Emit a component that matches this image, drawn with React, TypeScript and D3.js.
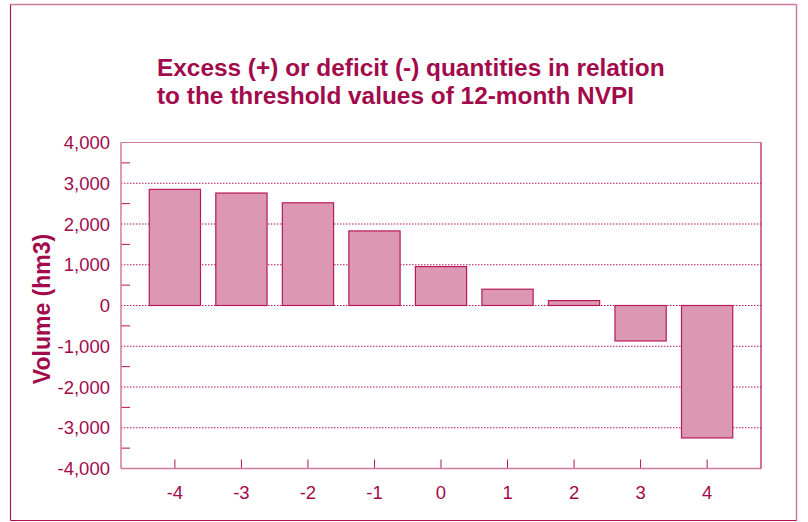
import React from "react";
import * as d3 from "d3";

const categories = ["-4", "-3", "-2", "-1", "0", "1", "2", "3", "4"];
const values = [2850, 2760, 2520, 1830, 955, 400, 120, -870, -3250];
const yTicks = [-4000, -3000, -2000, -1000, 0, 1000, 2000, 3000, 4000];
const yMinorTicks = [-3500, -2500, -1500, -500, 500, 1500, 2500, 3500];
const titleLines = [
  "Excess (+) or deficit (-) quantities in relation",
  "to the threshold values of 12-month NVPI",
];
const yLabel = "Volume (hm3)";

const W = 808;
const H = 522;
const plot = { left: 121, right: 761, top: 142.5, bottom: 468.5 };
const textColor = "#a20a4c";
const darkLine = "#b01458";
const lightLine = "#d07a9f";
const barFill = "#dc98b3";
const barStroke = "#b8195a";
const font = "'Liberation Sans', Arial, Helvetica, sans-serif";

export default function App() {
  const x = d3
    .scaleBand<string>()
    .domain(categories)
    .range([plot.left, plot.right])
    .paddingInner(0.23)
    .paddingOuter(0.425);
  const y = d3.scaleLinear().domain([-4000, 4000]).range([plot.bottom, plot.top]);
  const fmt = (v: number) => d3.format(",")(v).replace("\u2212", "-");

  return (
    <svg
      width={W}
      height={H}
      style={{ position: "absolute", left: 0, top: 0 }}
      fontFamily={font}
    >
      <rect x={0} y={0} width={W} height={H} fill="#fff" />
      {/* outer frame */}
      <line x1={10.5} y1={4.5} x2={796.5} y2={4.5} stroke={lightLine} strokeWidth={1.5} />
      <line x1={796.5} y1={4.5} x2={796.5} y2={520.5} stroke={lightLine} strokeWidth={1.5} />
      <line x1={10.5} y1={520.5} x2={796.5} y2={520.5} stroke={darkLine} strokeWidth={1.2} />
      <line x1={10.5} y1={4.5} x2={10.5} y2={520.5} stroke={darkLine} strokeWidth={1.2} />

      {/* title */}
      {titleLines.map((t, i) => (
        <text
          key={i}
          x={157}
          y={76 + i * 28}
          fill={textColor}
          fontSize={24.4}
          fontWeight="bold"
        >
          {t}
        </text>
      ))}

      {/* grid lines */}
      {yTicks
        .filter((v) => v !== 4000 && v !== -4000)
        .map((v) => (
          <line
            key={v}
            x1={plot.left}
            x2={plot.right}
            y1={y(v)}
            y2={y(v)}
            stroke={darkLine}
            strokeWidth={1}
            strokeDasharray="1.5,1.5"
          />
        ))}

      {/* minor ticks */}
      {yMinorTicks.map((v) => (
        <line
          key={v}
          x1={plot.left}
          x2={plot.left + 9}
          y1={y(v)}
          y2={y(v)}
          stroke={darkLine}
          strokeWidth={1}
        />
      ))}

      {/* bars */}
      {values.map((v, i) => {
        const y0 = y(0);
        const y1 = y(v);
        return (
          <rect
            key={i}
            x={x(categories[i])!}
            width={x.bandwidth()}
            y={Math.min(y0, y1)}
            height={Math.abs(y1 - y0)}
            fill={barFill}
            stroke={barStroke}
            strokeWidth={1.2}
          />
        );
      })}

      {/* x ticks */}
      {categories.map((c) => {
        const cx = x(c)! + x.bandwidth() / 2;
        return (
          <g key={c}>
            <line
              x1={cx}
              x2={cx}
              y1={plot.bottom}
              y2={plot.bottom - 9}
              stroke={darkLine}
              strokeWidth={1}
            />
            <text
              x={cx}
              y={499}
              textAnchor="middle"
              fill={textColor}
              fontSize={18.5}
            >
              {c}
            </text>
          </g>
        );
      })}

      {/* plot frame */}
      <line x1={plot.left} y1={plot.top} x2={plot.right} y2={plot.top} stroke={lightLine} strokeWidth={1.2} />
      <line x1={plot.left} y1={plot.top} x2={plot.left} y2={plot.bottom} stroke={lightLine} strokeWidth={1.5} />
      <line x1={plot.left} y1={plot.bottom} x2={plot.right} y2={plot.bottom} stroke={lightLine} strokeWidth={1.5} />
      <line x1={plot.right} y1={plot.top} x2={plot.right} y2={plot.bottom} stroke={darkLine} strokeWidth={1.2} />

      {/* y tick labels */}
      {yTicks.map((v) => (
        <text
          key={v}
          x={110}
          y={y(v) + 6.5}
          textAnchor="end"
          fill={textColor}
          fontSize={18.5}
        >
          {fmt(v)}
        </text>
      ))}

      {/* y label */}
      <text
        transform={`translate(50, 309) rotate(-90)`}
        textAnchor="middle"
        fill={textColor}
        fontSize={23}
        fontWeight="bold"
      >
        {yLabel}
      </text>
    </svg>
  );
}
